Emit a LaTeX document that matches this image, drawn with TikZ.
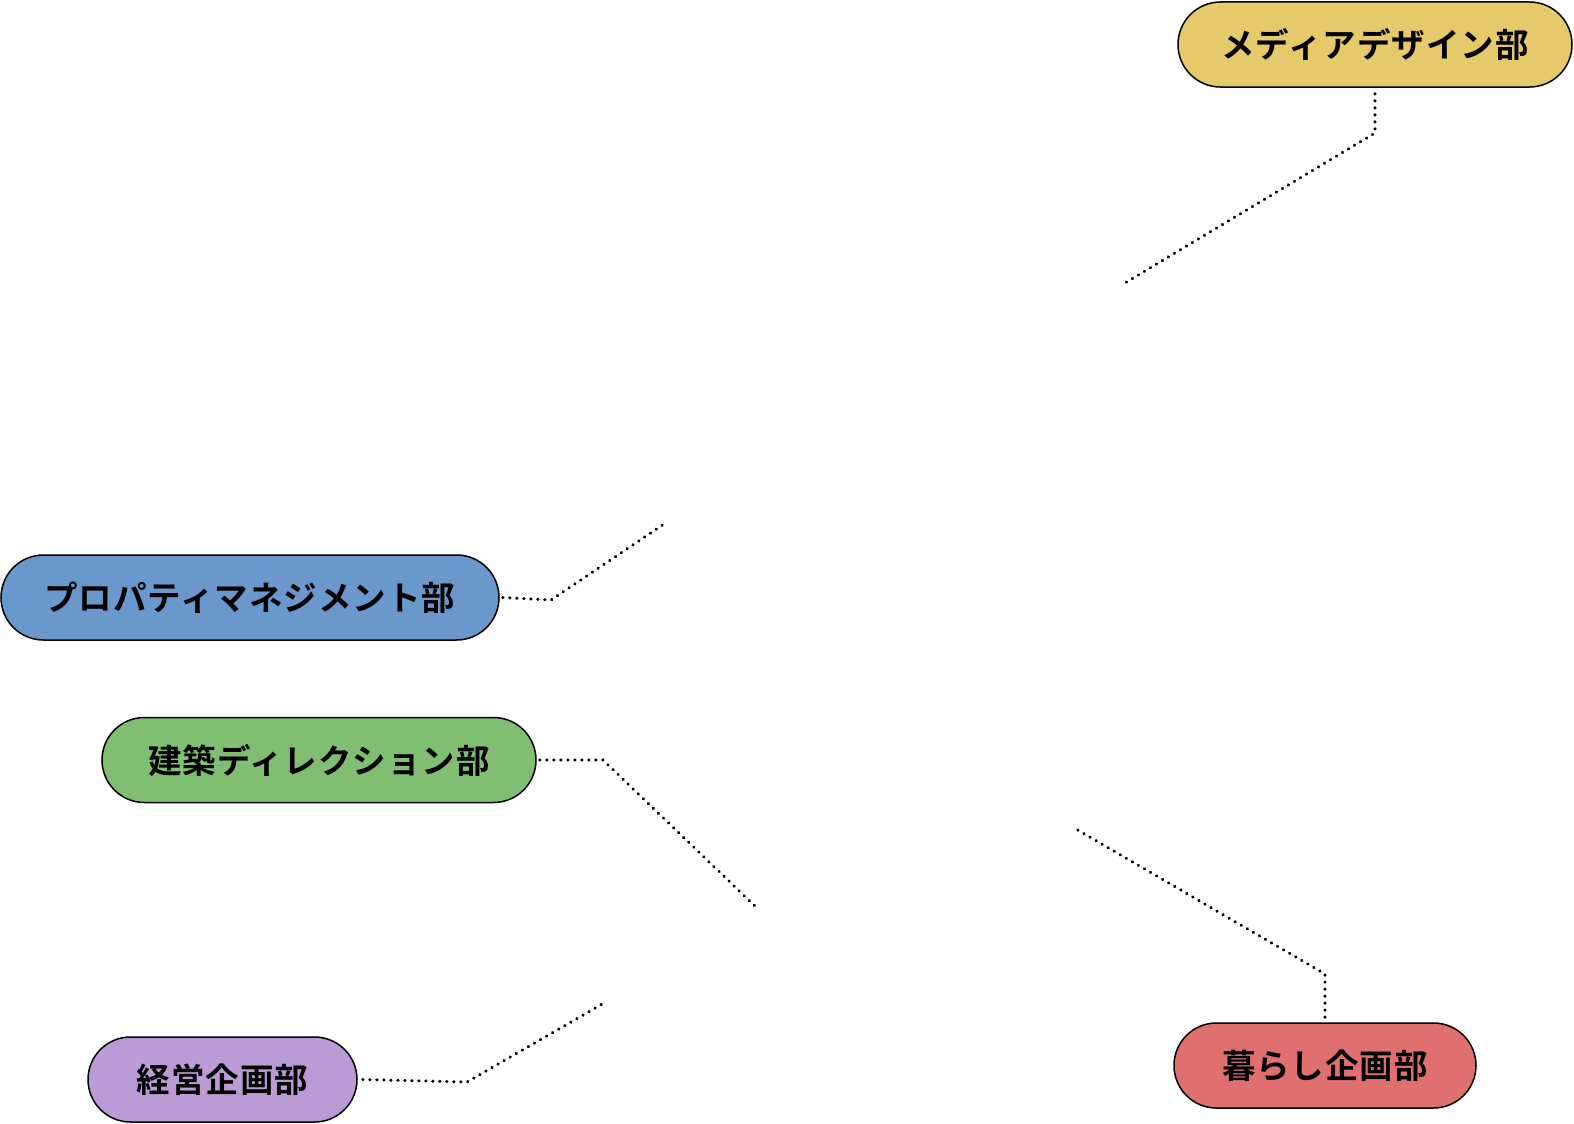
\documentclass[tikz,border=0pt]{standalone}
\usepackage{fontspec}
\newfontfamily\jpfont[LetterSpace=3]{Noto Sans CJK JP Bold}
\definecolor{cyellow}{HTML}{E6C96A}
\definecolor{cblue}{HTML}{6A98CC}
\definecolor{cgreen}{HTML}{80BF72}
\definecolor{cpurple}{HTML}{BA9BD6}
\definecolor{cred}{HTML}{E07070}
\begin{document}
\begin{tikzpicture}[x=1pt,y=-1pt,
  pill/.style={draw=black, line width=1.5pt, rounded corners=42.5pt, minimum height=85pt, inner sep=0pt, font=\jpfont\fontsize{33.5}{33.5}\selectfont, text=black},
  dotline/.style={line width=3.2pt, line cap=round, dash pattern=on 0.3pt off 6.7pt}]
\useasboundingbox (0,0) rectangle (1574,1124);
\node[pill, fill=cyellow, minimum width=394pt] (media) at (1375,44.5) {メディアデザイン部};
\node[pill, fill=cblue, minimum width=498pt] (prop) at (250,597.5) {プロパティマネジメント部};
\node[pill, fill=cgreen, minimum width=434pt] (kenchiku) at (319,760) {建築ディレクション部};
\node[pill, fill=cpurple, minimum width=269pt] (keiei) at (222.5,1079.5) {経営企画部};
\node[pill, fill=cred, minimum width=302pt] (kurashi) at (1325,1065.5) {暮らし企画部};
\coordinate (e1) at (1125,283);
\coordinate (e2) at (664,524);
\coordinate (e3) at (757,908);
\coordinate (e4) at (604,1003);
\coordinate (e5) at (1076,829);
\draw[dotline] ([yshift=-6pt]media.south) -- (1375,133) -- (e1);
\draw[dotline] ([xshift=3pt]prop.east) -- (551,600) -- (e2);
\draw[dotline] ([xshift=3pt]kenchiku.east) -- (603,760) -- (e3);
\draw[dotline] ([xshift=5pt]keiei.east) -- (467,1082) -- (e4);
\draw[dotline] ([yshift=5pt]kurashi.north) -- (1325,974) -- (e5);
\end{tikzpicture}
\end{document}
